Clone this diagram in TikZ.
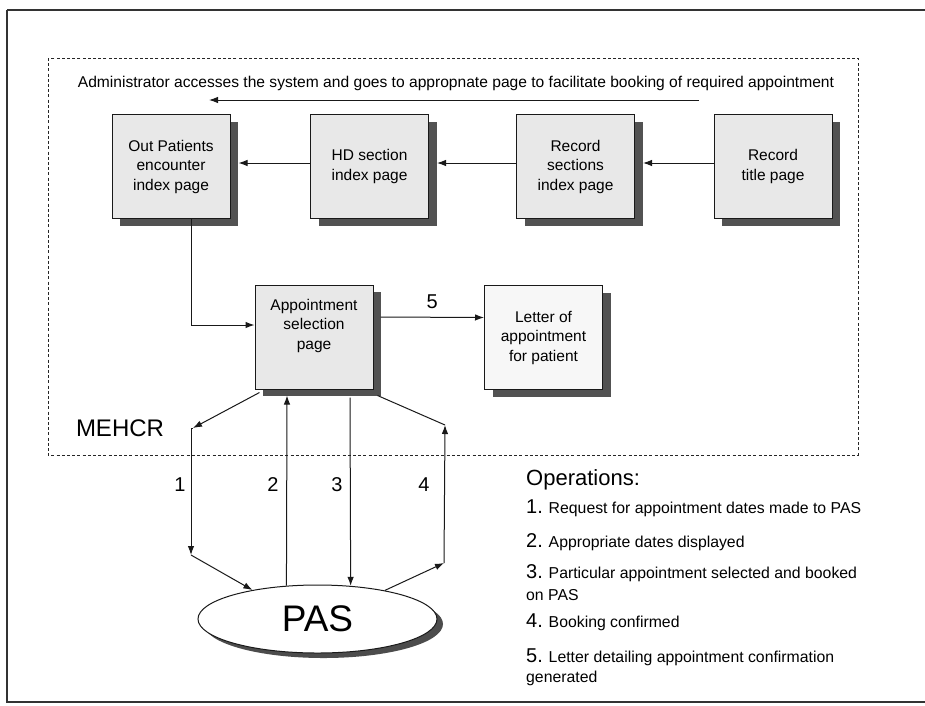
\documentclass[tikz,border=0pt]{standalone}
\usepackage{fontspec}
\setmainfont{Liberation Sans}
\usetikzlibrary{arrows.meta,shadows,shapes.geometric,calc}
\newcommand\opnumfont{\fontsize{20}{20}\selectfont}
\begin{document}
\begin{tikzpicture}[x=1pt,y=-1pt,
  pagebox/.style={draw=black!90, line width=1pt, fill=black!9,
    minimum width=118pt, minimum height=104pt, inner sep=2pt, align=center,
    font=\fontsize{15.5}{19.5}\selectfont,
    drop shadow={shadow xshift=8pt, shadow yshift=-7pt, fill=black!68, opacity=1}},
  conn/.style={draw=black!90, line width=1pt, -{Latex[length=9pt,width=6.5pt]}},
  plain/.style={draw=black!90, line width=1pt},
  steplabel/.style={font=\fontsize{20}{20}\selectfont, inner sep=0pt},
  opline/.style={anchor=base west, inner sep=0pt, font=\fontsize{15.8}{18}\selectfont}
]
\useasboundingbox (0,0) rectangle (925,705);
\fill[white] (0,0) rectangle (925,705);

% outer frame (right edge runs past the page)
\draw[black!80, line width=1.6pt] (7,10) -- (940,10) (7,10) -- (7,702) -- (940,702);

% MEHCR system boundary
\draw[black!85, line width=1pt, dash pattern=on 3pt off 2.2pt] (48,58) rectangle (858,455);
\node[font=\fontsize{24}{24}\selectfont, inner sep=0pt] (mehcr) at (120,428.5) {MEHCR};

% navigation through the record
\node[font=\fontsize{15.6}{18}\selectfont, inner sep=0pt] (admin) at (456,83)
  {Administrator accesses the system and goes to appropnate page to facilitate booking of required appointment};
\coordinate (navstart) at (699,100);
\coordinate (navend) at (209,100);
\draw[conn] (navstart) -- (navend);

\node[pagebox] (op) at (171,166.5) {Out Patients\\encounter\\index page};
\node[pagebox] (hd) at (369.5,166.5) {HD section\\index page};
\node[pagebox] (rs) at (575.5,166.5) {Record\\sections\\index page};
\node[pagebox] (rt) at (773,166.5) {Record\\title page};

\draw[conn] ([yshift=3.5pt]rt.west) -- ([xshift=8pt,yshift=3.5pt]rs.east);
\draw[conn] ([yshift=3.5pt]rs.west) -- ([xshift=8pt,yshift=3.5pt]hd.east);
\draw[conn] ([yshift=3.5pt]hd.west) -- ([xshift=8pt,yshift=3.5pt]op.east);

\node[pagebox] (as) at (314,337) {Appointment\\selection\\page\\[6pt]};
\node[pagebox, fill=black!3] (lt) at (543.5,337.5) {Letter of\\appointment\\for patient};

\draw[conn] ([xshift=20pt]op.south) |- ([yshift=12pt]as.west);
\draw[conn] ([xshift=7pt,yshift=20pt]as.east) -- ([yshift=20pt]lt.west)
  node[midway, above=8pt, steplabel] (l5) {5};

% Patient Administration System
\node[ellipse, draw=black!90, line width=1pt, fill=white, minimum width=239pt, minimum height=68pt,
  inner sep=0pt, font=\fontsize{37}{37}\selectfont,
  drop shadow={shadow xshift=6pt, shadow yshift=-5pt, fill=black!70, opacity=1}] (pas) at (317.5,619) {PAS};

% operation 1
\coordinate (c1a) at (193,428);
\coordinate (c1b) at (191,555);
\draw[conn] ($(as.south west)+(5,3)$) -- (c1a);
\draw[plain] (c1a) -- (191,428);
\draw[conn] (191,428) -- (c1b);
\draw[conn] (c1b) -- (pas.156);
% operation 2
\draw[conn] (pas.133) -- ($(as.south)+(-27,6)$);
% operation 3
\draw[conn] ($(as.south)+(36,8)$) -- (pas.45);
% operation 4
\coordinate (c4a) at (444,563);
\coordinate (c4b) at (445,425);
\draw[conn] (pas.23) -- (c4a);
\draw[conn] (c4a) -- (c4b);
\draw[plain] (c4b) -- ($(as.south east)+(4,6)$);

\node[steplabel] (l1) at (180,485) {1};
\node[steplabel] (l2) at (273,485) {2};
\node[steplabel] (l3) at (337,485) {3};
\node[steplabel] (l4) at (424,485) {4};

% legend of operations
\node[anchor=base west, inner sep=0pt, font=\fontsize{22}{22}\selectfont] (ops) at (526,485) {Operations:};
\node[opline] (i1) at (526,513) {{\opnumfont 1.} Request for appointment dates made to PAS};
\node[opline] (i2) at (526,547) {{\opnumfont 2.} Appropriate dates displayed};
\node[opline] (i3) at (526,578) {{\opnumfont 3.} Particular appointment selected and booked};
\node[opline] (i3b) at (526,600) {on PAS};
\node[opline] (i4) at (526,627) {{\opnumfont 4.} Booking confirmed};
\node[opline] (i5) at (526,662) {{\opnumfont 5.} Letter detailing appointment confirmation};
\node[opline] (i5b) at (526,682) {generated};
\end{tikzpicture}
\end{document}
